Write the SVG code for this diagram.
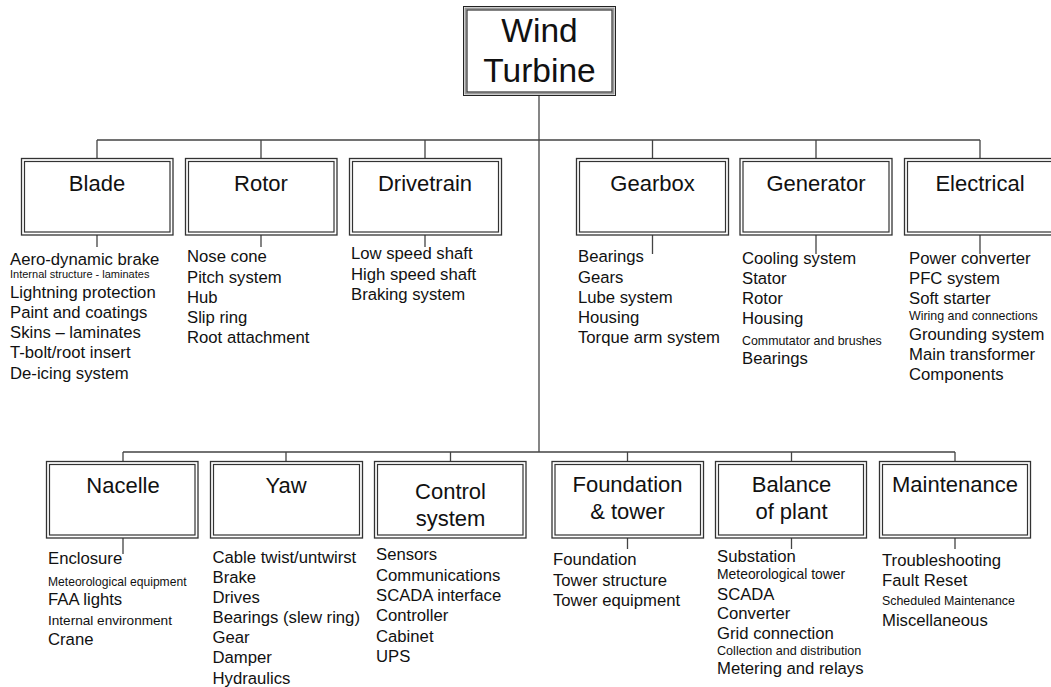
<svg xmlns="http://www.w3.org/2000/svg" width="1051" height="687" viewBox="0 0 1051 687">
<style>
text{font-family:"Liberation Sans",Arial,Helvetica,sans-serif;fill:#111}
.t{font-size:22px;text-anchor:middle}
.tt{font-size:33.5px;text-anchor:middle}
.l{font-size:16.7px}
.o{fill:#fff;stroke:#333;stroke-width:1.3}
.i{fill:none;stroke:#333;stroke-width:1.2}
.wo{fill:#fff;stroke:#222;stroke-width:1}
.wm{fill:none;stroke:#999;stroke-width:2}
.c{fill:none;stroke:#444;stroke-width:1.3}
</style>
<rect width="1051" height="687" fill="#fff"/>
<g id="connectors">
<path class="c" d="M539 96V452"/>
<path class="c" d="M97 140H980M97 140V158M261 140V158M425 140V158M652.5 140V158M816 140V158M980 140V158"/>
<path class="c" d="M97 235V247M261 235V247M425 235V247M652.5 235V254M816 235V254M980 235V254"/>
<path class="c" d="M123 452H955M123 452V461M286 452V461M450.5 452V461M627.5 452V461M791.5 452V461M955 452V461"/>
<path class="c" d="M123 538V554M627.5 538V549M791.5 538V549M955 538V549"/>
</g>
<g id="wind-turbine">
<rect class="wo" x="463.5" y="6.5" width="152" height="89"/>
<rect class="wm" x="465.5" y="8.5" width="148" height="85"/>
<rect class="i" x="467" y="10" width="145" height="82"/>
<text class="tt" x="539.5" y="41.5">Wind</text>
<text class="tt" x="539.5" y="82">Turbine</text>
</g>
<g id="blade">
<rect class="o" x="21.5" y="158.5" width="151.5" height="76.5"/>
<rect class="i" x="24.5" y="161.5" width="145.5" height="70.5"/>
<text class="t" x="97" y="191">Blade</text>
<text class="l" x="10" y="264.8">Aero-dynamic brake</text>
<text x="10" y="278" style="font-size:11px">Internal structure - laminates</text>
<text class="l" x="10" y="297.5">Lightning protection</text>
<text class="l" x="10" y="317.5">Paint and coatings</text>
<text class="l" x="10" y="337.5">Skins – laminates</text>
<text class="l" x="10" y="358">T-bolt/root insert</text>
<text class="l" x="10" y="378.5">De-icing system</text>
</g>
<g id="rotor">
<rect class="o" x="185.5" y="158.5" width="151.5" height="76.5"/>
<rect class="i" x="188.5" y="161.5" width="145.5" height="70.5"/>
<text class="t" x="261" y="191">Rotor</text>
<text class="l" x="187" y="262">Nose cone</text>
<text class="l" x="187" y="282.5">Pitch system</text>
<text class="l" x="187" y="302.5">Hub</text>
<text class="l" x="187" y="322.5">Slip ring</text>
<text class="l" x="187" y="343">Root attachment</text>
</g>
<g id="drivetrain">
<rect class="o" x="349.5" y="158.5" width="152" height="76.5"/>
<rect class="i" x="352.5" y="161.5" width="146" height="70.5"/>
<text class="t" x="425" y="191">Drivetrain</text>
<text class="l" x="351" y="259">Low speed shaft</text>
<text class="l" x="351" y="279.5">High speed shaft</text>
<text class="l" x="351" y="299.5">Braking system</text>
</g>
<g id="gearbox">
<rect class="o" x="576.5" y="158.5" width="152" height="76.5"/>
<rect class="i" x="579.5" y="161.5" width="146" height="70.5"/>
<text class="t" x="652.5" y="191">Gearbox</text>
<text class="l" x="578" y="262">Bearings</text>
<text class="l" x="578" y="282.5">Gears</text>
<text class="l" x="578" y="302.5">Lube system</text>
<text class="l" x="578" y="322.5">Housing</text>
<text class="l" x="578" y="343">Torque arm system</text>
</g>
<g id="generator">
<rect class="o" x="740" y="158.5" width="152" height="76.5"/>
<rect class="i" x="743" y="161.5" width="146" height="70.5"/>
<text class="t" x="816" y="191">Generator</text>
<text class="l" x="742" y="264">Cooling system</text>
<text class="l" x="742" y="284">Stator</text>
<text class="l" x="742" y="303.5">Rotor</text>
<text class="l" x="742" y="324">Housing</text>
<text x="742" y="345" style="font-size:12.4px">Commutator and brushes</text>
<text class="l" x="742" y="364">Bearings</text>
</g>
<g id="electrical">
<rect class="o" x="904.5" y="158.5" width="152" height="76.5"/>
<rect class="i" x="907.5" y="161.5" width="146" height="70.5"/>
<text class="t" x="980" y="191">Electrical</text>
<text class="l" x="909" y="263.5">Power converter</text>
<text class="l" x="909" y="284">PFC system</text>
<text class="l" x="909" y="303.5">Soft starter</text>
<text x="909" y="319.5" style="font-size:12.4px">Wiring and connections</text>
<text class="l" x="909" y="339.5">Grounding system</text>
<text class="l" x="909" y="359.5">Main transformer</text>
<text class="l" x="909" y="379.5">Components</text>
</g>
<g id="nacelle">
<rect class="o" x="46.5" y="461.5" width="151.5" height="76.5"/>
<rect class="i" x="49.5" y="464.5" width="145.5" height="70.5"/>
<text class="t" x="123" y="493">Nacelle</text>
<text class="l" x="48" y="564">Enclosure</text>
<text x="48" y="585.5" style="font-size:12.1px">Meteorological equipment</text>
<text class="l" x="48" y="605">FAA lights</text>
<text x="48" y="624.5" style="font-size:13.6px">Internal environment</text>
<text class="l" x="48" y="645">Crane</text>
</g>
<g id="yaw">
<rect class="o" x="210.5" y="461.5" width="152" height="76.5"/>
<rect class="i" x="213.5" y="464.5" width="146" height="70.5"/>
<text class="t" x="286" y="493">Yaw</text>
<text class="l" x="212.5" y="563">Cable twist/untwirst</text>
<text class="l" x="212.5" y="583">Brake</text>
<text class="l" x="212.5" y="603">Drives</text>
<text class="l" x="212.5" y="623.3">Bearings (slew ring)</text>
<text class="l" x="212.5" y="643">Gear</text>
<text class="l" x="212.5" y="663">Damper</text>
<text class="l" x="212.5" y="683.5">Hydraulics</text>
</g>
<g id="control-system">
<rect class="o" x="374.5" y="461.5" width="151.5" height="76.5"/>
<rect class="i" x="377.5" y="464.5" width="145.5" height="70.5"/>
<text class="t" x="450.5" y="498.5">Control</text>
<text class="t" x="450.5" y="525.5">system</text>
<text class="l" x="376" y="560">Sensors</text>
<text class="l" x="376" y="581">Communications</text>
<text class="l" x="376" y="601">SCADA interface</text>
<text class="l" x="376" y="621">Controller</text>
<text class="l" x="376" y="641.5">Cabinet</text>
<text class="l" x="376" y="662">UPS</text>
</g>
<g id="foundation-tower">
<rect class="o" x="552" y="461.5" width="151.5" height="76.5"/>
<rect class="i" x="555" y="464.5" width="145.5" height="70.5"/>
<text class="t" x="627.5" y="492">Foundation</text>
<text class="t" x="627.5" y="519">&amp; tower</text>
<text class="l" x="553" y="564.5">Foundation</text>
<text class="l" x="553" y="585.7">Tower structure</text>
<text class="l" x="553" y="605.7">Tower equipment</text>
</g>
<g id="balance-of-plant">
<rect class="o" x="715.5" y="461.5" width="151" height="76.5"/>
<rect class="i" x="718.5" y="464.5" width="145" height="70.5"/>
<text class="t" x="791.5" y="492">Balance</text>
<text class="t" x="791.5" y="519">of plant</text>
<text class="l" x="717" y="562.3">Substation</text>
<text x="717" y="579.3" style="font-size:13.9px">Meteorological tower</text>
<text class="l" x="717" y="600">SCADA</text>
<text class="l" x="717" y="619.3">Converter</text>
<text class="l" x="717" y="639">Grid connection</text>
<text x="717" y="655" style="font-size:12.6px">Collection and distribution</text>
<text class="l" x="717" y="674">Metering and relays</text>
</g>
<g id="maintenance">
<rect class="o" x="879.5" y="461.5" width="151" height="76.5"/>
<rect class="i" x="882.5" y="464.5" width="145" height="70.5"/>
<text class="t" x="955" y="492">Maintenance</text>
<text class="l" x="882" y="565.7">Troubleshooting</text>
<text class="l" x="882" y="585.7">Fault Reset</text>
<text x="882" y="605" style="font-size:12.4px">Scheduled Maintenance</text>
<text class="l" x="882" y="625.7">Miscellaneous</text>
</g>
</svg>
